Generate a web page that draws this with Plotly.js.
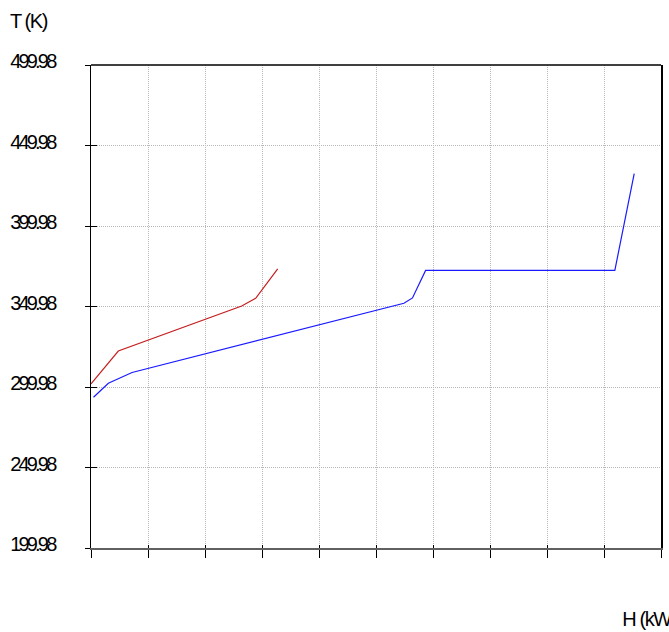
<!DOCTYPE html>
<html>
<head>
<meta charset="utf-8">
<script src="https://cdn.plot.ly/plotly-3.0.1.min.js"></script>
<style>
  html, body { margin: 0; padding: 0; background: #fff; }
  #chart { width: 669px; height: 632px; }
  /* tight, condensed lettering for all chart text */
  #chart .ytick text { letter-spacing: -2.8px; }
  #chart .gtitle, #chart .annotation-text { letter-spacing: -1.4px; }
</style>
</head>
<body>
<div id="chart"></div>
<script>
// Hot stream composite curve (enthalpy vs temperature)
var hotH = [0, 0.479, 2.644, 2.889, 3.275];
var hotT = [301.9, 322.3, 350.3, 355.1, 373.3];

// Cold stream composite curve
var coldH = [0.044, 0.304, 0.72, 5.49, 5.64, 5.87, 9.19, 9.53];
var coldT = [293.6, 302.3, 309.0, 352.0, 355.3, 372.4, 372.4, 432.5];

// Axis extents and tick spacing
var hRange = [0, 10];
var tRange = [199.98, 499.98];
var tStep = 50;
var hStep = 1;

var fontFamily = '"Liberation Sans", Arial, sans-serif';

var traces = [
  {
    x: hotH, y: hotT, type: 'scatter', mode: 'lines',
    line: { color: '#c41e1e', width: 1.2 },
    hoverinfo: 'skip', showlegend: false
  },
  {
    x: coldH, y: coldT, type: 'scatter', mode: 'lines',
    line: { color: '#1a1aff', width: 1.2 },
    hoverinfo: 'skip', showlegend: false
  },
  // empty trace that brings up the secondary tick axes
  { x: [], y: [], xaxis: 'x2', yaxis: 'y2', type: 'scatter', mode: 'lines',
    hoverinfo: 'skip', showlegend: false }
];

var layout = {
  width: 669,
  height: 632,
  margin: { l: 91, r: 7.5, t: 65, b: 84, pad: 0 },
  paper_bgcolor: '#ffffff',
  plot_bgcolor: '#ffffff',
  font: { family: fontFamily, size: 20, color: '#000' },
  showlegend: false,
  title: {
    text: 'T (K)',
    font: { family: fontFamily, size: 20, color: '#000' },
    xref: 'container', yref: 'container',
    x: 10 / 669, xanchor: 'left',
    y: 1 - 21 / 632, yanchor: 'middle'
  },
  xaxis: {
    range: hRange,
    tick0: 0, dtick: hStep,
    showticklabels: false,
    ticks: 'outside', ticklen: 8, tickwidth: 1, tickcolor: '#000',
    showline: true, linecolor: '#606060', linewidth: 1.5,
    showgrid: true, gridcolor: '#b8b8b8', griddash: '1px,1px', gridwidth: 1,
    zeroline: false, fixedrange: true
  },
  xaxis2: {
    overlaying: 'x', anchor: 'y', side: 'bottom', matches: 'x',
    range: hRange,
    tick0: 0, dtick: hStep,
    showticklabels: false,
    ticks: 'inside', ticklen: 3, tickwidth: 1, tickcolor: '#000',
    showline: false, showgrid: false, zeroline: false, fixedrange: true
  },
  yaxis: {
    range: tRange,
    tick0: tRange[0], dtick: tStep,
    tickformat: '.2f',
    tickfont: { family: fontFamily, size: 20, color: '#000' },
    ticks: 'outside', ticklen: 5, tickwidth: 1, tickcolor: '#000',
    ticklabelstandoff: 26,
    ticklabelshift: -4,
    showline: true, linecolor: '#000', linewidth: 1.5, mirror: true,
    showgrid: true, gridcolor: '#b8b8b8', griddash: '1px,1px', gridwidth: 1,
    zeroline: false, fixedrange: true
  },
  yaxis2: {
    overlaying: 'y', anchor: 'x', side: 'left', matches: 'y',
    range: tRange,
    tick0: tRange[0], dtick: tStep,
    showticklabels: false,
    ticks: 'inside', ticklen: 6, tickwidth: 1, tickcolor: '#000',
    showline: false, showgrid: false, zeroline: false, fixedrange: true
  },
  shapes: [
    // top edge of the frame
    { type: 'line', xref: 'paper', yref: 'paper', x0: 0, x1: 1, y0: 1, y1: 1,
      line: { color: '#000', width: 1.5 } }
  ],
  annotations: [
    {
      text: 'H (kW)', showarrow: false,
      xref: 'paper', yref: 'paper',
      x: (616 - 91) / 570.5, xanchor: 'left',
      y: -71 / 483, yanchor: 'middle',
      font: { family: fontFamily, size: 20, color: '#000' }
    }
  ]
};

Plotly.newPlot('chart', traces, layout, { staticPlot: true, displayModeBar: false });
</script>
</body>
</html>
